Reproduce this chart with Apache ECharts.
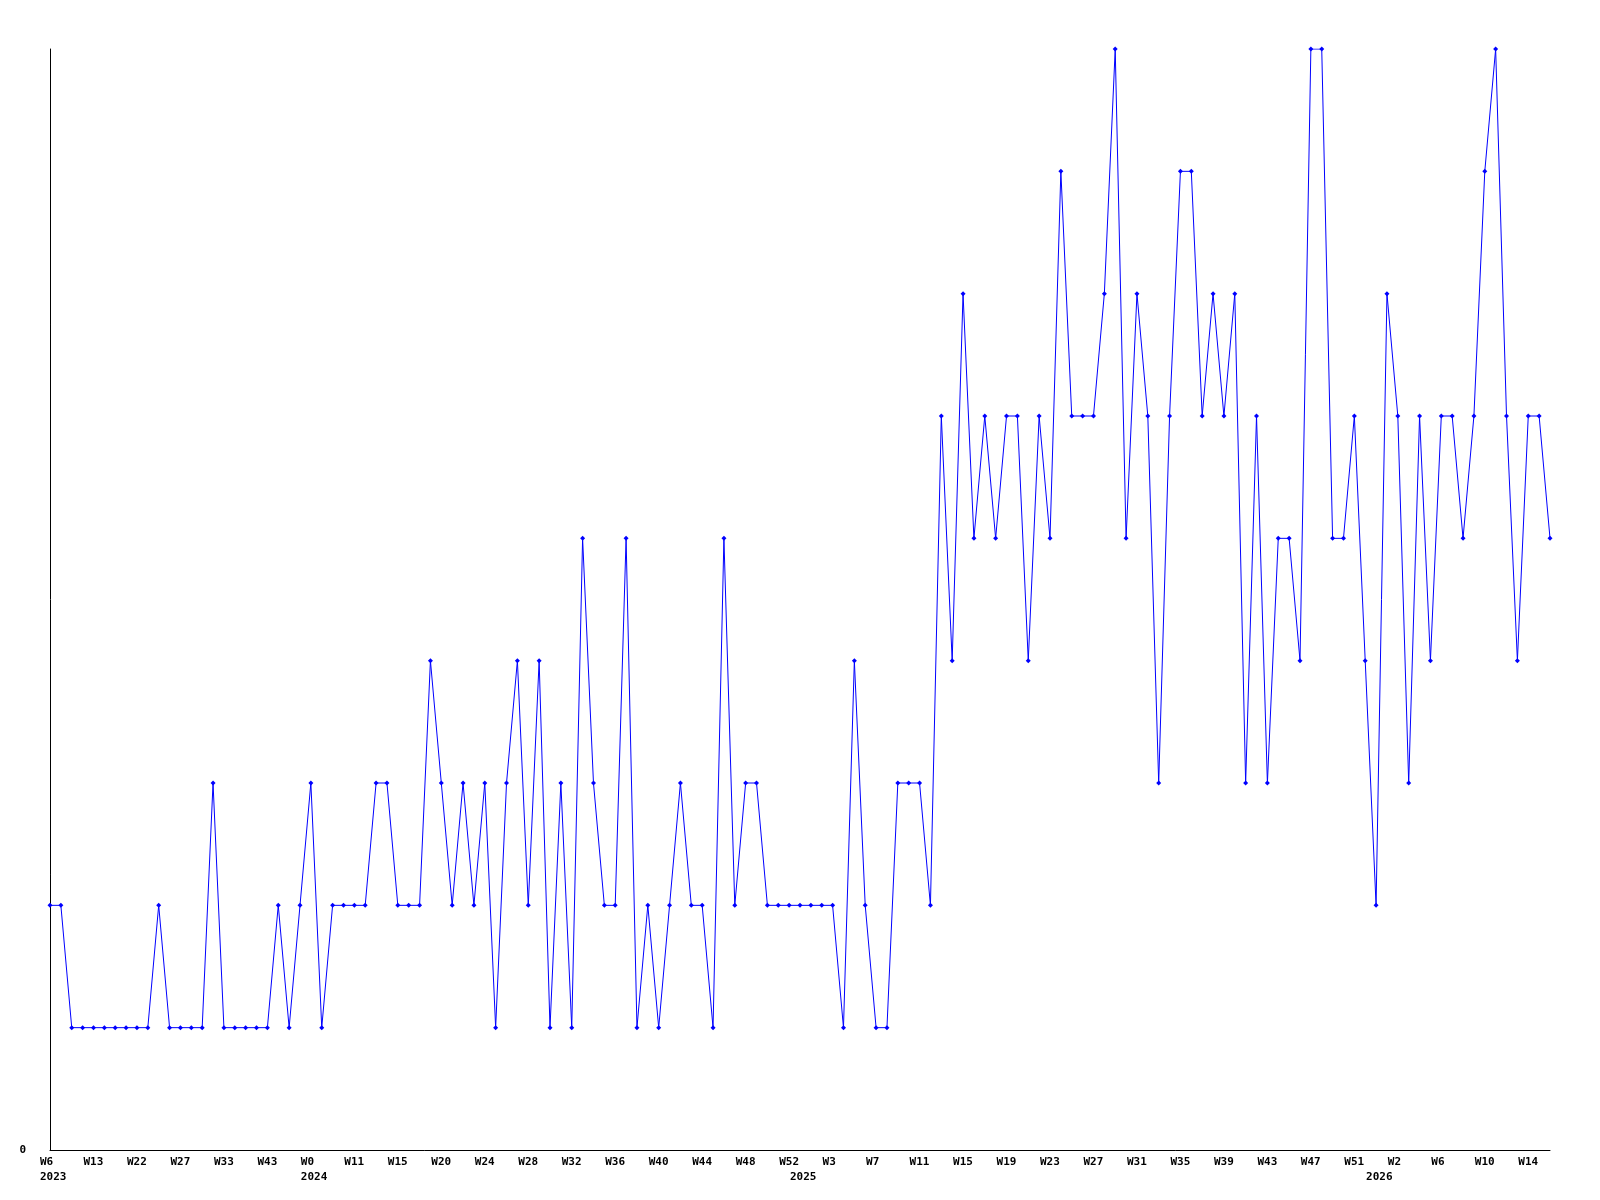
<!DOCTYPE html>
<html>
<head>
<meta charset="utf-8">
<script src="https://cdn.jsdelivr.net/npm/echarts@6/dist/echarts.min.js"></script>
<style>
  html, body { margin: 0; padding: 0; background: #fff; }
  #chart { width: 1600px; height: 1200px; }
</style>
</head>
<body>
<div id="chart"></div>
<script>
// week numbers that have a data point, per year
const weeks2023 = [6, 7, 9, 11, 13, 15, 18, 20, 22, 23, 25, 26, 27, 29, 30, 31, 33, 36, 38, 41, 43, 46, 49, 51];
const weeks2024 = [0, 2, 5, 8, 11, 12, 13, 14, 15, 16, 17, 19, 20, 21, 22, 23, 24, 25, 26, 27, 28, 29, 30, 31,
    32, 33, 34, 35, 36, 37, 38, 39, 40, 41, 42, 43, 44, 45, 46, 47, 48, 49, 50, 51, 52];
const weeks2025 = [0, 1, 2, 3, 4, 5, 6, 7, 8, 9, 10, 11, 12, 13, 14, 15, 16, 17, 18, 19, 20, 21, 22, 23, 24, 25,
    26, 27, 28, 29, 30, 31, 32, 33, 34, 35, 36, 37, 38, 39, 40, 41, 42, 43, 44, 45, 46, 47, 48, 49, 50, 51, 52];
const weeks2026 = [0, 1, 2, 3, 4, 5, 6, 7, 8, 9, 10, 11, 12, 13, 14, 15, 16];

const counts = [
    2, 2, 1, 1, 1, 1, 1, 1, 1, 1,
    2, 1, 1, 1, 1, 3, 1, 1, 1, 1,
    1, 2, 1, 2, 3, 1, 2, 2, 2, 2,
    3, 3, 2, 2, 2, 4, 3, 2, 3, 2,
    3, 1, 3, 4, 2, 4, 1, 3, 1, 5,
    3, 2, 2, 5, 1, 2, 1, 2, 3, 2,
    2, 1, 5, 2, 3, 3, 2, 2, 2, 2,
    2, 2, 2, 1, 4, 2, 1, 1, 3, 3,
    3, 2, 6, 4, 7, 5, 6, 5, 6, 6,
    4, 6, 5, 8, 6, 6, 6, 7, 9, 5,
    7, 6, 3, 6, 8, 8, 6, 7, 6, 7,
    3, 6, 3, 5, 5, 4, 9, 9, 5, 5,
    6, 4, 2, 7, 6, 3, 6, 4, 6, 6,
    5, 6, 8, 9, 6, 4, 6, 6, 5
];

const yMin = 0;
const yMax = 9;

const categories = [];
[[2023, weeks2023], [2024, weeks2024], [2025, weeks2025], [2026, weeks2026]].forEach(([y, ws]) => {
    ws.forEach((w) => categories.push(y + " W" + w));
});

const labelFont = {
    fontFamily: "DejaVu Sans Mono",
    fontWeight: "bold",
    fontSize: 11,
    color: "#000",
};

const chart = echarts.init(document.getElementById("chart"));
chart.setOption({
    animation: false,
    backgroundColor: "#fff",
    grid: { left: 50, right: 50, top: 49, bottom: 50, containLabel: false },
    xAxis: [
        {
            type: "category",
            data: categories,
            boundaryGap: false,
            axisLine: { lineStyle: { color: "#000", width: 1 } },
            axisTick: { show: false },
            splitLine: { show: false },
            axisLabel: Object.assign({}, labelFont, {
                interval: (i) => i % 4 === 0,
                align: "left",
                padding: [0, 0, 0, -10],
                margin: 7,
                formatter: (v) => v.split(" ")[1],
            }),
        },
        {
            type: "category",
            data: categories,
            position: "bottom",
            boundaryGap: false,
            axisLine: { show: false },
            axisTick: { show: false },
            splitLine: { show: false },
            axisLabel: Object.assign({}, labelFont, {
                interval: (i) => i === 0 || categories[i].split(" ")[0] !== categories[i - 1].split(" ")[0],
                align: "left",
                padding: [0, 0, 0, -10],
                margin: 22,
                formatter: (v) => v.split(" ")[0],
            }),
        },
    ],
    yAxis: {
        type: "value",
        min: yMin,
        max: yMax,
        interval: 1,
        axisLine: { show: true, lineStyle: { color: "#000", width: 1 } },
        axisTick: { show: false },
        splitLine: { show: false },
        axisLabel: Object.assign({}, labelFont, {
            margin: 24,
            formatter: (v) => (v === yMin ? String(v) : ""),
        }),
    },
    series: [
        {
            type: "line",
            data: counts,
            xAxisIndex: 0,
            symbol: "diamond",
            symbolSize: 5,
            showAllSymbol: true,
            lineStyle: { color: "#0000ff", width: 1 },
            itemStyle: { color: "#0000ff" },
        },
    ],
});
</script>
</body>
</html>
